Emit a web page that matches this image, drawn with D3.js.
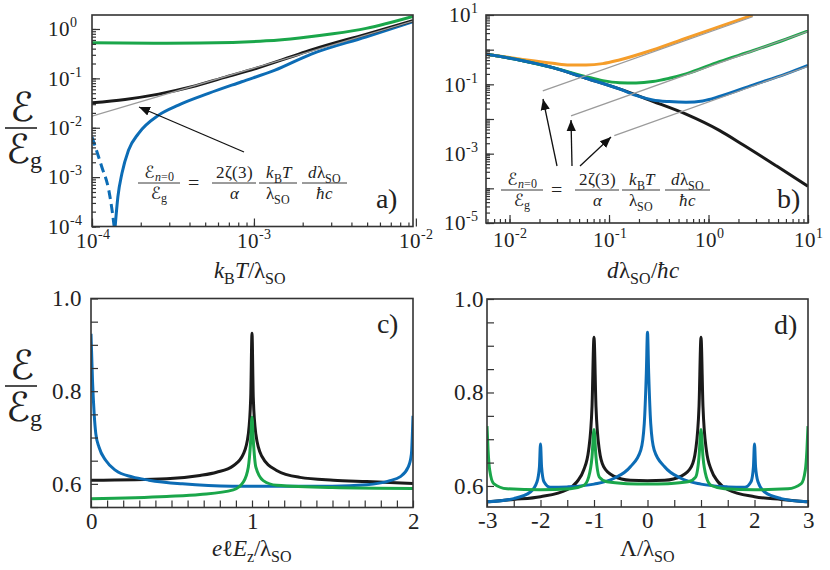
<!DOCTYPE html>
<html><head><meta charset="utf-8">
<script src="https://cdn.jsdelivr.net/npm/d3@7"></script>
<style>
@font-face { font-family: "SerifX"; font-style: normal; src: local("Liberation Serif"), local("LiberationSerif"), local("Liberation Serif Regular"), local("Times New Roman"), local("DejaVu Serif"), local("DejaVuSerif"); }
@font-face { font-family: "SerifX"; font-style: italic; src: local("Liberation Serif Italic"), local("LiberationSerif-Italic"), local("Times New Roman Italic"), local("DejaVu Serif Italic"), local("DejaVuSerif-Italic"); }
body{margin:0;background:#fff}
svg{display:block}
</style></head><body>
<svg id="chart" width="830" height="570"></svg>
<script>
// ---------- data ----------
// panel a (x: kBT/lambdaSO, y: E/Eg, log-log)
const aXMajor = [1e-4, 1e-3, 1e-2];
const aXSup = ["-4", "-3", "-2"];
const aYMajor = [1, 1e-1, 1e-2, 1e-3, 1e-4];
const aYSup = ["0", "-1", "-2", "-3", "-4"];
const aGreen = [[1e-4,0.527],[2.9e-4,0.515],[7.4e-4,0.535],[1.19e-3,0.575],[1.91e-3,0.66],[3.07e-3,0.80],[4.93e-3,1.03],[9.6e-3,1.80]];
const aBlack = [[1e-4,0.032],[1.6e-4,0.0375],[2.58e-4,0.048],[4.13e-4,0.0676],[6.6e-4,0.105],[1.06e-3,0.164],[1.7e-3,0.274],[2.26e-3,0.375],[4.9e-3,0.78],[9.6e-3,1.48]];
const aGray = [[1e-4,0.0172],[9.6e-3,1.45]];
const aBlue = [[1.39e-4,1e-4],[1.445e-4,4e-4],[1.53e-4,1.18e-3],[1.68e-4,3.5e-3],[1.94e-4,7.7e-3],[2.58e-4,0.018],[3.42e-4,0.0288],[5.24e-4,0.0496],[8.4e-4,0.0855],[1.35e-3,0.147],[2.26e-3,0.311],[4.9e-3,0.69],[9.6e-3,1.40]];
const aBlueDash = [[1e-4,6.5e-3],[1.15e-4,1.6e-3],[1.27e-4,5.4e-4],[1.34e-4,1.8e-4],[1.37e-4,1e-4]];

// panel b (x: d lambdaSO / hbar c)
const bXMajor = [1e-2, 1e-1, 1, 10];
const bXSup = ["-2", "-1", "0", "1"];
const bYMajor = [10, 1e-1, 1e-3, 1e-5];
const bYSup = ["1", "-1", "-3", "-5"];
const bYDecades = [10, 1, 1e-1, 1e-2, 1e-3, 1e-4, 1e-5];
const bBlack = [[5.8e-3,0.735],[0.01259,0.505],[0.0272,0.303],[0.0588,0.15],[0.127,0.0737],[0.275,0.0324],[0.594,0.0138],[1.285,4.7e-3],[2.24,1.78e-3],[4.84,4.4e-4],[10,1.15e-4]];
const bOrange = [[5.8e-3,0.735],[0.01256,0.54],[0.0272,0.405],[0.04,0.362],[0.0588,0.362],[0.0865,0.396],[0.127,0.505],[0.275,0.98],[0.594,2.13],[1.285,4.6],[2.78,9.9]];
const bGreen = [[5.8e-3,0.735],[0.01256,0.505],[0.0272,0.303],[0.0588,0.167],[0.0865,0.128],[0.127,0.112],[0.187,0.11],[0.275,0.12],[0.404,0.15],[0.594,0.2],[1.285,0.45],[2.78,0.93],[6.0,2.0],[10,3.45]];
const bBlue = [[5.8e-3,0.735],[0.01256,0.505],[0.0272,0.303],[0.0588,0.15],[0.127,0.0737],[0.2,0.045],[0.275,0.0355],[0.404,0.0318],[0.594,0.0304],[0.875,0.0332],[1.285,0.0444],[2.78,0.095],[6.0,0.2],[10,0.35]];
const bGrayOrange = [[0.0216,0.0646],[2.78,8.9]];
const bGrayGreen = [[0.0415,0.0123],[10,3.4]];
const bGrayBlue = [[0.113,3.33e-3],[10,0.33]];

// panel c (x: e l Ez / lambdaSO)
const cXMajor = [0, 1, 2];
const cYMajor = [0.6, 0.8, 1.0];
const cBlack = [[0,0.6076],[0.47,0.611],[0.677,0.618],[0.78,0.625],[0.884,0.639],[0.946,0.664],[0.977,0.707],[0.992,0.786],[1.0,0.925],[1.008,0.786],[1.024,0.707],[1.06,0.66],[1.153,0.629],[1.298,0.614],[1.505,0.608],[1.712,0.605],[2.0,0.601]];
const cBlue = [[0,0.924],[0.0093,0.823],[0.0197,0.751],[0.03,0.708],[0.05,0.679],[0.091,0.651],[0.153,0.629],[0.257,0.615],[0.36,0.608],[0.567,0.6],[0.877,0.595],[1.5,0.595],[1.712,0.598],[1.857,0.607],[1.919,0.615],[1.97,0.636],[1.99,0.664],[2.0,0.747]];
const cGreen = [[0,0.568],[0.47,0.573],[0.677,0.577],[0.884,0.587],[0.946,0.604],[0.977,0.636],[0.992,0.694],[1.0,0.744],[1.008,0.694],[1.024,0.636],[1.07,0.607],[1.153,0.597],[1.5,0.592],[2.0,0.59]];

// panel d (x: Lambda / lambdaSO)
const dXMajor = [-3, -2, -1, 0, 1, 2, 3];
const dYMajor = [0.6, 0.8, 1.0];
const dBlack = [[-3,0.566],[-2.5,0.571],[-2,0.577],[-1.505,0.592],[-1.318,0.609],[-1.193,0.634],[-1.1,0.677],[-1.037,0.77],[-1.0,0.918],[-0.963,0.77],[-0.9,0.677],[-0.819,0.641],[-0.632,0.621],[-0.32,0.612],[0,0.611],[0.32,0.612],[0.632,0.621],[0.819,0.641],[0.9,0.677],[0.963,0.77],[1.0,0.918],[1.037,0.77],[1.1,0.677],[1.193,0.634],[1.318,0.609],[1.505,0.592],[2,0.577],[2.5,0.571],[3,0.566]];
const dBlue = [[-3,0.566],[-2.5,0.573],[-2.19,0.587],[-2.065,0.609],[-2.02,0.641],[-2.0,0.69],[-1.98,0.641],[-1.935,0.609],[-1.816,0.597],[-1.5,0.598],[-1.0,0.604],[-0.632,0.616],[-0.32,0.641],[-0.125,0.677],[-0.06,0.734],[-0.022,0.841],[0,0.929],[0.022,0.841],[0.06,0.734],[0.125,0.677],[0.32,0.641],[0.632,0.616],[1.0,0.604],[1.5,0.598],[1.816,0.597],[1.935,0.609],[1.98,0.641],[2.0,0.69],[2.02,0.641],[2.065,0.609],[2.19,0.587],[2.5,0.573],[3,0.566]];
const dGreen = [[-3,0.728],[-2.98,0.677],[-2.95,0.634],[-2.875,0.605],[-2.626,0.594],[-2.0,0.592],[-1.44,0.594],[-1.193,0.601],[-1.1,0.619],[-1.037,0.662],[-1.0,0.721],[-0.963,0.662],[-0.9,0.619],[-0.757,0.609],[-0.383,0.605],[0,0.604],[0.383,0.605],[0.757,0.609],[0.9,0.619],[0.963,0.662],[1.0,0.721],[1.037,0.662],[1.1,0.619],[1.193,0.601],[1.44,0.594],[2.0,0.592],[2.626,0.594],[2.875,0.605],[2.95,0.634],[2.98,0.677],[3,0.728]];

// ---------- drawing ----------
const SERIF = '"SerifX","Liberation Serif","Times New Roman","DejaVu Serif",serif';
const SCRIPT_FONT = '"DejaVu Serif","SerifX","DejaVu Sans",serif';
const COL = {black:"#1a1a1a", blue:"#0c6cb5", green:"#1aa64a", orange:"#f59d2a", gray:"#9b9b9b"};
const svg = d3.select("#chart").style("font-family", SERIF);
const defs = svg.append("defs");
defs.append("marker").attr("id","arr").attr("viewBox","0 0 10 10").attr("refX",10).attr("refY",5)
  .attr("markerWidth",11).attr("markerHeight",11).attr("markerUnits","userSpaceOnUse").attr("orient","auto")
  .append("path").attr("d","M0,0.8 L10,5 L0,9.2 Z").attr("fill","#111");

let clipN = 0;
function makePanel(xs, ys) {
  const [x0, x1] = xs.range(), [y1, y0] = ys.range();
  const id = "clip" + (clipN++);
  defs.append("clipPath").attr("id", id).append("rect").attr("x", x0).attr("y", y0).attr("width", x1 - x0).attr("height", y1 - y0);
  const g = svg.append("g");
  const plot = g.append("g").attr("clip-path", `url(#${id})`);
  return {g, plot, x0, x1, y0, y1};
}
function drawLine(P, xs, ys, data, color, w, dash) {
  const line = d3.line().x(d => xs(d[0])).y(d => ys(d[1])).curve(d3.curveMonotoneX);
  P.plot.append("path").attr("d", line(data)).attr("fill","none").attr("stroke", color)
    .attr("stroke-width", w).attr("stroke-linejoin","round").attr("stroke-dasharray", dash || null);
}
function frame(P) {
  P.g.append("rect").attr("x",P.x0).attr("y",P.y0).attr("width",P.x1-P.x0).attr("height",P.y1-P.y0)
    .attr("fill","none").attr("stroke","#333").attr("stroke-width",1.6);
}
function styleAxis(ax) {
  ax.attr("font-family", SERIF);
  ax.select(".domain").remove();
  ax.selectAll(".tick line").attr("stroke","#333").attr("stroke-width",1.2);
  ax.selectAll("text").attr("fill","#222");
}
function powLabels(sel, sups) {
  sel.selectAll(".tick text").each(function(d, i) {
    const t = d3.select(this).text(null).attr("font-size", 21);
    t.append("tspan").text("10");
    t.append("tspan").attr("dy", -9).attr("font-size", 14).text(sups[i]);
  });
}

// math-text helper: parts = [[text, kind]] kind: "n" normal, "i" italic, "s" subscript
function mathText(parent, x, y, parts, size, anchor) {
  const t = parent.append("text").attr("x", x).attr("y", y).attr("font-size", size)
    .attr("text-anchor", anchor || "middle").attr("fill", "#222").attr("font-family", SERIF);
  let shifted = false;
  parts.forEach(([s, k]) => {
    const ts = t.append("tspan").text(s);
    if (k === "i") ts.attr("font-style", "italic");
    if (k === "s") {
      ts.attr("font-size", size * 0.7);
      if (!shifted) { ts.attr("dy", size * 0.28); shifted = true; }
    } else if (shifted) { ts.attr("dy", -size * 0.28); shifted = false; }
  });
  return t;
}
const SCRIPT_E = "\u2130";
function yFracLabel(cx, barY) {
  svg.append("text").attr("x", cx + 1).attr("y", barY - 7).attr("text-anchor","middle").attr("font-size", 40)
    .attr("font-family", SCRIPT_FONT).attr("fill","#222").text(SCRIPT_E);
  svg.append("line").attr("x1", cx - 16).attr("x2", cx + 16).attr("y1", barY).attr("y2", barY).attr("stroke","#222").attr("stroke-width",1.6);
  const t = svg.append("text").attr("x", cx + 3).attr("y", barY + 35).attr("text-anchor","middle").attr("font-size", 40)
    .attr("font-family", SCRIPT_FONT).attr("fill","#222");
  t.append("tspan").text(SCRIPT_E);
  t.append("tspan").attr("font-size", 24).attr("dy", 5).attr("font-family", SERIF).text("g");
}
function formula(gx, barY) {
  const g = svg.append("g");
  const fs = 17;
  const frac = (xa, xb, num, den) => {
    const cx = (xa + xb) / 2;
    mathText(g, cx, barY - 5, num, fs);
    mathText(g, cx, barY + 16, den, fs);
    g.append("line").attr("x1", xa).attr("x2", xb).attr("y1", barY).attr("y2", barY).attr("stroke","#222").attr("stroke-width",0.9);
  };
  const f1 = g.append("text").attr("x", gx + 21).attr("y", barY - 5).attr("font-size", fs).attr("text-anchor","middle").attr("fill","#222");
  f1.append("tspan").attr("font-family", SCRIPT_FONT).text(SCRIPT_E);
  f1.append("tspan").attr("font-size", 12).attr("dy", 3).attr("font-style","italic").text("n");
  f1.append("tspan").attr("font-size", 12).text("=0");
  const f2 = g.append("text").attr("x", gx + 21).attr("y", barY + 16).attr("font-size", fs).attr("text-anchor","middle").attr("fill","#222");
  f2.append("tspan").attr("font-family", SCRIPT_FONT).text(SCRIPT_E);
  f2.append("tspan").attr("font-size", 12).attr("dy", 3).text("g");
  g.append("line").attr("x1", gx).attr("x2", gx + 42).attr("y1", barY).attr("y2", barY).attr("stroke","#222").attr("stroke-width",0.9);
  g.append("text").attr("x", gx + 55).attr("y", barY + 6).attr("font-size", 20).attr("text-anchor","middle").attr("fill","#222").text("=");
  frac(gx + 74, gx + 118, [["2ζ(3)","n"]], [["α","i"]]);
  frac(gx + 121, gx + 159, [["k","i"],["B","s"],["T","i"]], [["λ","n"],["SO","s"]]);
  frac(gx + 164, gx + 209, [["d","i"],["λ","n"],["SO","s"]], [["ħ","i"],["c","i"]]);
}
function arrow(x1, y1, x2, y2) {
  svg.append("line").attr("x1",x1).attr("y1",y1).attr("x2",x2).attr("y2",y2)
    .attr("stroke","#111").attr("stroke-width",1.3).attr("marker-end","url(#arr)");
}
function panelLabel(P, x, y, s) {
  P.g.append("text").attr("x", x).attr("y", y).attr("font-size", 28).attr("fill","#222").text(s);
}

// ===== Panel a =====
{
  const xs = d3.scaleLog().domain([1e-4, 9.6e-3]).range([92, 413]);
  const ys = d3.scaleLog().domain([1e-4, 1.92]).range([226.5, 15]);
  const P = makePanel(xs, ys);
  const gx = P.g.append("g").attr("transform", `translate(0,${P.y1})`);
  gx.call(d3.axisBottom(xs).tickValues(xs.ticks()).tickSize(-4).tickFormat(""));
  styleAxis(gx);
  const gxM = P.g.append("g").attr("transform", `translate(0,${P.y1})`);
  gxM.call(d3.axisBottom(xs).tickValues(aXMajor).tickSize(-8).tickPadding(7));
  styleAxis(gxM); powLabels(gxM, aXSup);
  const gy = P.g.append("g").attr("transform", `translate(${P.x0},0)`);
  gy.call(d3.axisLeft(ys).tickValues(ys.ticks()).tickSize(-4).tickFormat(""));
  styleAxis(gy);
  const gyM = P.g.append("g").attr("transform", `translate(${P.x0},0)`);
  gyM.call(d3.axisLeft(ys).tickValues(aYMajor).tickSize(-8).tickPadding(23));
  styleAxis(gyM); powLabels(gyM, aYSup);
  gyM.selectAll(".tick text").attr("text-anchor","start").attr("x", -44);

  drawLine(P, xs, ys, aGreen, COL.green, 3);
  drawLine(P, xs, ys, aBlue, COL.blue, 3);
  drawLine(P, xs, ys, aBlueDash, COL.blue, 3, "9,5");
  drawLine(P, xs, ys, aBlack, COL.black, 3);
  drawLine(P, xs, ys, aGray, COL.gray, 1.3);
  frame(P);
  arrow(244, 152, 139, 107);
  formula(138, 183);
  panelLabel(P, 376, 208, "a)");
  mathText(svg, 250, 278, [["k","i"],["B","s"],["T","i"],["/","n"],["λ","n"],["SO","s"]], 23);
}

// ===== Panel b =====
{
  const xs = d3.scaleLog().domain([5.8e-3, 10]).range([486, 808]);
  const ys = d3.scaleLog().domain([1e-5, 10]).range([223, 15]);
  const P = makePanel(xs, ys);
  const gx = P.g.append("g").attr("transform", `translate(0,${P.y1})`);
  gx.call(d3.axisBottom(xs).tickValues(xs.ticks()).tickSize(-4).tickFormat(""));
  styleAxis(gx);
  const gxM = P.g.append("g").attr("transform", `translate(0,${P.y1})`);
  gxM.call(d3.axisBottom(xs).tickValues(bXMajor).tickSize(-8).tickPadding(9));
  styleAxis(gxM); powLabels(gxM, bXSup);
  const gy = P.g.append("g").attr("transform", `translate(${P.x0},0)`);
  gy.call(d3.axisLeft(ys).tickValues(ys.ticks()).tickSize(-4).tickFormat(""));
  styleAxis(gy);
  const gyD = P.g.append("g").attr("transform", `translate(${P.x0},0)`);
  gyD.call(d3.axisLeft(ys).tickValues(bYDecades).tickSize(-8).tickFormat(""));
  styleAxis(gyD);
  const gyM = P.g.append("g").attr("transform", `translate(${P.x0},0)`);
  gyM.call(d3.axisLeft(ys).tickValues(bYMajor).tickSize(0).tickPadding(8));
  styleAxis(gyM); powLabels(gyM, bYSup);

  drawLine(P, xs, ys, bBlack, COL.black, 3);
  drawLine(P, xs, ys, bOrange, COL.orange, 3);
  drawLine(P, xs, ys, bGreen, COL.green, 3);
  drawLine(P, xs, ys, bBlue, COL.blue, 3);
  drawLine(P, xs, ys, bGrayOrange, COL.gray, 1.3);
  drawLine(P, xs, ys, bGrayGreen, COL.gray, 1.3);
  drawLine(P, xs, ys, bGrayBlue, COL.gray, 1.3);
  frame(P);
  arrow(557, 166, 543, 99);
  arrow(572, 166, 571, 120);
  arrow(580, 166, 611, 137);
  formula(501, 190);
  panelLabel(P, 777, 208, "b)");
  mathText(svg, 643, 278, [["d","i"],["λ","n"],["SO","s"],["/","n"],["ħ","i"],["c","i"]], 23);
}

// ===== Panel c =====
{
  const xs = d3.scaleLinear().domain([0, 2]).range([91, 413]);
  const ys = d3.scaleLinear().domain([0.549, 1.0]).range([507.5, 298.5]);
  const P = makePanel(xs, ys);
  const gx = P.g.append("g").attr("transform", `translate(0,${P.y1})`);
  gx.call(d3.axisBottom(xs).tickValues(d3.range(0, 2.001, 0.1)).tickSize(-7).tickFormat(""));
  styleAxis(gx);
  const gxM = P.g.append("g").attr("transform", `translate(0,${P.y1})`);
  gxM.call(d3.axisBottom(xs).tickValues(cXMajor).tickSize(0).tickPadding(5).tickFormat(d3.format("d")));
  styleAxis(gxM); gxM.selectAll("text").attr("font-size", 23);
  const gy = P.g.append("g").attr("transform", `translate(${P.x0},0)`);
  gy.call(d3.axisLeft(ys).tickValues(d3.range(0.55, 1.001, 0.05)).tickSize(-7).tickFormat(""));
  styleAxis(gy);
  const gyM = P.g.append("g").attr("transform", `translate(${P.x0},0)`);
  gyM.call(d3.axisLeft(ys).tickValues(cYMajor).tickSize(0).tickPadding(9).tickFormat(d3.format(".1f")));
  styleAxis(gyM); gyM.selectAll("text").attr("font-size", 23);

  drawLine(P, xs, ys, cBlack, COL.black, 3);
  drawLine(P, xs, ys, cBlue, COL.blue, 3);
  drawLine(P, xs, ys, cGreen, COL.green, 3);
  frame(P);
  panelLabel(P, 377, 333, "c)");
  mathText(svg, 252, 556, [["e","i"],["ℓ","n"],["E","i"],["z","s"],["/","n"],["λ","n"],["SO","s"]], 23);
}

// ===== Panel d =====
{
  const xs = d3.scaleLinear().domain([-3, 3]).range([487, 808]);
  const ys = d3.scaleLinear().domain([0.555, 1.0]).range([507, 299]);
  const P = makePanel(xs, ys);
  const gx = P.g.append("g").attr("transform", `translate(0,${P.y1})`);
  gx.call(d3.axisBottom(xs).tickValues(d3.range(-3, 3.001, 0.5)).tickSize(-7).tickFormat(""));
  styleAxis(gx);
  const gxM = P.g.append("g").attr("transform", `translate(0,${P.y1})`);
  gxM.call(d3.axisBottom(xs).tickValues(dXMajor).tickSize(0).tickPadding(5).tickFormat(d => d < 0 ? "-" + Math.abs(d) : String(d)));
  styleAxis(gxM); gxM.selectAll("text").attr("font-size", 23);
  const gy = P.g.append("g").attr("transform", `translate(${P.x0},0)`);
  gy.call(d3.axisLeft(ys).tickValues(d3.range(0.6, 1.001, 0.05)).tickSize(-7).tickFormat(""));
  styleAxis(gy);
  const gyM = P.g.append("g").attr("transform", `translate(${P.x0},0)`);
  gyM.call(d3.axisLeft(ys).tickValues(dYMajor).tickSize(0).tickPadding(3).tickFormat(d3.format(".1f")));
  styleAxis(gyM); gyM.selectAll("text").attr("font-size", 23);

  drawLine(P, xs, ys, dBlack, COL.black, 3);
  drawLine(P, xs, ys, dBlue, COL.blue, 3);
  drawLine(P, xs, ys, dGreen, COL.green, 3);
  frame(P);
  panelLabel(P, 774, 334, "d)");
  mathText(svg, 647, 556, [["Λ","n"],["/","n"],["λ","n"],["SO","s"]], 23);
}

yFracLabel(21, 128);
yFracLabel(21, 386);
</script>
</body></html>
